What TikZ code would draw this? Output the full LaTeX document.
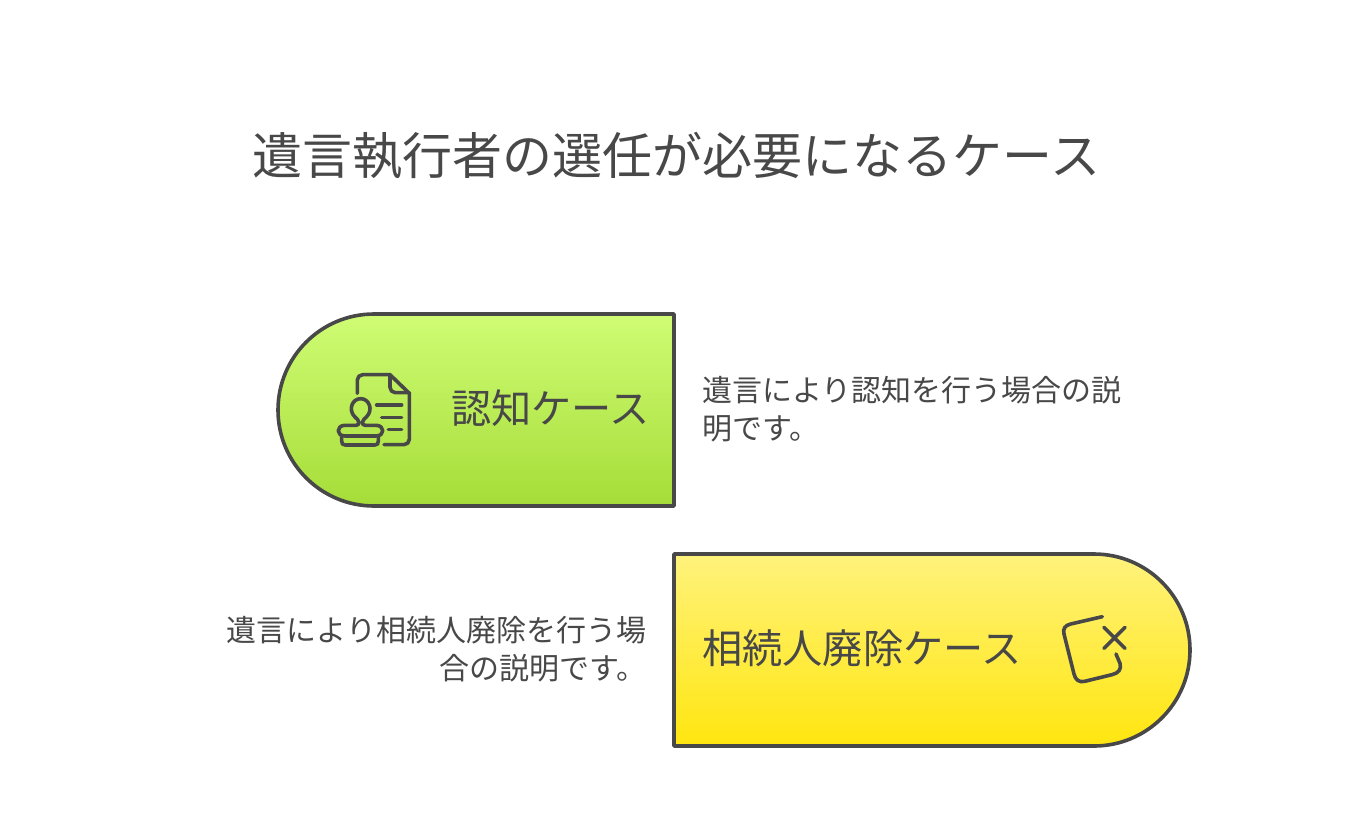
\documentclass[tikz,border=0pt]{standalone}
\usepackage{fontspec}
\setmainfont{Noto Sans CJK JP}
\definecolor{ink}{HTML}{484848}
\definecolor{green1}{HTML}{CFFC74}
\definecolor{green2}{HTML}{A6DD38}
\definecolor{yellow1}{HTML}{FFF27C}
\definecolor{yellow2}{HTML}{FFE60F}
\tikzset{
  outline/.style={draw=ink,line width=3.6pt,line join=round},
  greenfill/.style={top color=green1,bottom color=green2},
  yellowfill/.style={top color=yellow1,bottom color=yellow2},
  iconline/.style={draw=ink,line width=3.6pt,line cap=round,line join=round},
  txt/.style={text=ink,inner sep=0pt,outer sep=0pt},
  title/.style={txt,font=\fontsize{50}{60}\selectfont},
  label/.style={txt,font=\fontsize{40.2}{48}\selectfont},
  desc/.style={txt,font=\fontsize{30}{38.5}\selectfont},
}
\begin{document}
\begin{tikzpicture}[x=1pt,y=-1pt]
\useasboundingbox (0,0) rectangle (1348,820);
\node[title,anchor=center] (t) at (676.5,156) {遺言執行者の選任が必要になるケース};
% green
\path[outline,greenfill] (674,314) -- (674,506) -- (374,506) arc[start angle=90,end angle=270,radius=96] -- cycle;
% yellow
\path[outline,yellowfill] (674,554) -- (1094,554) arc[start angle=-90,end angle=90,radius=96] -- (674,746) -- cycle;
\node[label,anchor=center] (a) at (550.5,408) {認知ケース};
\node[label,anchor=center] (b) at (862,648) {相続人廃除ケース};
\node[desc,anchor=north west,align=left] (c) at (702,376) {遺言により認知を行う場合の説\\明です。};
\node[desc,anchor=north east,align=right] (d) at (646,616) {遺言により相続人廃除を行う場\\合の説明です。};
% stamp icon
\begin{scope}[shift={(320,360)},x=0.3333pt,y=-0.3333pt]
 \draw[iconline] (112,100) -- (112,60) arc[start angle=180,end angle=270,radius=16] -- (210,44) -- (268,100) -- (268,238) arc[start angle=0,end angle=90,radius=16] -- (192,254);
 \draw[iconline] (210,44) -- (210,82) arc[start angle=180,end angle=90,radius=16] -- (268,98);
 \draw[iconline] (170,135) -- (245,135) (185,172) -- (245,172) (205,208) -- (245,208);
 \draw[iconline] (75,196) -- (108,196) .. controls (122,196) and (118,180) .. (104,170) .. controls (84,150) and (96,116) .. (122,116) .. controls (148,116) and (160,150) .. (140,170) .. controls (126,180) and (122,196) .. (136,196) -- (168,196) .. controls (195,196) and (195,228) .. (168,228) -- (75,228) .. controls (48,228) and (48,196) .. (75,196) -- cycle;
 \draw[iconline] (65,228) -- (65,243) .. controls (65,252) and (68,255) .. (76,255) -- (164,255) .. controls (172,255) and (175,252) .. (175,243) -- (175,228);
\end{scope}
% x-box icon
\begin{scope}[shift={(1040,600)},x=0.3333pt,y=-0.3333pt]
 \draw[iconline] (192,145) -- (255,82) (192,82) -- (255,145);
 \draw[iconline] (187,50) -- (92,72) .. controls (75,76) and (68,86) .. (72,102) -- (102,222) .. controls (106,240) and (118,248) .. (134,244) -- (216,224) .. controls (236,219) and (245,208) .. (240,190) -- (228,162);
\end{scope}
\end{tikzpicture}
\end{document}
